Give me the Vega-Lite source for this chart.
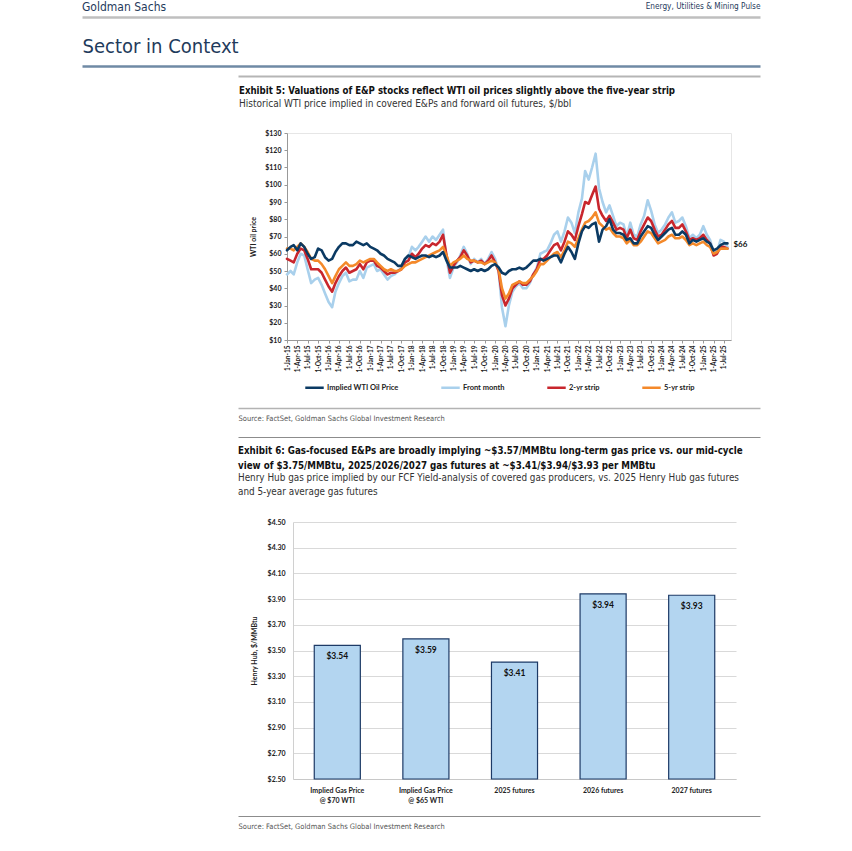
{
"$schema":"https://vega.github.io/schema/vega-lite/v6.json",
"background":"white",
"padding":{"left":82,"top":1,"right":8,"bottom":4},
"config":{"view":{"stroke":null},"axis":{"labelFont":"Lato","titleFont":"Lato"},"legend":{"labelFont":"Lato","titleFont":"Lato"}},
"spacing":0,
"resolve":{"legend":{"color":"independent"}},
"vconcat":[
{"width":678,"height":19,"data":{"values":[{"v":0},{"v":1}]},"mark":{"type":"rule","opacity":0},
 "encoding":{"x":{"field":"v","type":"quantitative","scale":{"domain":[0,1]},"axis":{"orient":"top","labels":false,"ticks":false,"grid":false,"domain":true,"domainColor":"#bfbfbf","domainWidth":2.5,"title":"Energy, Utilities & Mining Pulse","titleAnchor":"end","titleFont":"Liberation Sans Narrow, Arial Narrow, DejaVu Sans Condensed, sans-serif","titleFontSize":8.2,"titleFontWeight":"normal","titleColor":"#1f3b5c","titlePadding":7}}},
 "title":{"text":"Goldman Sachs","anchor":"start","font":"Liberation Sans Narrow, Arial Narrow, DejaVu Sans Condensed, sans-serif","fontSize":12,"fontWeight":"normal","color":"#1f3b5c","offset":-13}},
{"width":678,"height":1,"data":{"values":[{"v":0},{"v":1}]},"mark":{"type":"rule","opacity":0},
 "encoding":{"x":{"field":"v","type":"quantitative","scale":{"domain":[0,1]},"axis":{"orient":"top","labels":false,"ticks":false,"grid":false,"domain":true,"domainColor":"#6f8aa5","domainWidth":2.5,"title":"Sector in Context","titleAnchor":"start","titleFont":"Liberation Sans Narrow, Arial Narrow, DejaVu Sans Condensed, sans-serif","titleFontSize":20,"titleFontWeight":"normal","titleColor":"#1f3b5c","titlePadding":10}}}},
{"spacing":0,"hconcat":[
 {"width":156,"height":1,"data":{"values":[{"v":0}]},"mark":{"type":"rule","opacity":0},"encoding":{"x":{"field":"v","type":"quantitative","axis":null}}},
 {"width":522,"height":18,"data":{"values":[{"v":0},{"v":1}]},"mark":{"type":"rule","opacity":0},
  "encoding":{"x":{"field":"v","type":"quantitative","scale":{"domain":[0,1]},"axis":{"orient":"top","offset":-9,"labels":false,"ticks":false,"grid":false,"domainColor":"#b5b5b5","domainWidth":2,"title":null}}}}
]},
{"spacing":0,"resolve":{"legend":{"color":"independent"}},"hconcat":[
 {"width":156,"height":1,"data":{"values":[{"v":0}]},"mark":{"type":"rule","opacity":0},"encoding":{"x":{"field":"v","type":"quantitative","axis":null}}},
 {"width":444,"height":207,
   "title":{"text":"Exhibit 5: Valuations of E&P stocks reflect WTI oil prices slightly above the five-year strip","subtitle":"Historical WTI price implied in covered E&Ps and forward oil futures, $/bbl","anchor":"start","frame":"group","dx":-48,"font":"Liberation Sans Narrow, Arial Narrow, DejaVu Sans Condensed, sans-serif","fontSize":9.6,"fontWeight":"bold","color":"#111111","subtitleFont":"Liberation Sans Narrow, Arial Narrow, DejaVu Sans Condensed, sans-serif","subtitleFontSize":10,"subtitleColor":"#333333","subtitlePadding":3,"offset":20},
   "view":{"stroke":"#e6e6e6"},
   "data":{"values":[
{"d":"2015-01-01","imp":62,"fm":48,"s2":57,"s5":63},
{"d":"2015-02-01","imp":64,"fm":50,"s2":56,"s5":63},
{"d":"2015-03-01","imp":65,"fm":48,"s2":55,"s5":62},
{"d":"2015-04-01","imp":62,"fm":55,"s2":60,"s5":64},
{"d":"2015-05-01","imp":66,"fm":60,"s2":63,"s5":66},
{"d":"2015-06-01","imp":64,"fm":59,"s2":62,"s5":64},
{"d":"2015-07-01","imp":60,"fm":51,"s2":57,"s5":61},
{"d":"2015-08-01","imp":57,"fm":43,"s2":51,"s5":57},
{"d":"2015-09-01","imp":58,"fm":45,"s2":51,"s5":56},
{"d":"2015-10-01","imp":63,"fm":46,"s2":51,"s5":56},
{"d":"2015-11-01","imp":62,"fm":42,"s2":49,"s5":54},
{"d":"2015-12-01","imp":58,"fm":37,"s2":45,"s5":51},
{"d":"2016-01-01","imp":56,"fm":32,"s2":41,"s5":47},
{"d":"2016-02-01","imp":57,"fm":29,"s2":38,"s5":43},
{"d":"2016-03-01","imp":61,"fm":38,"s2":43,"s5":47},
{"d":"2016-04-01","imp":64,"fm":43,"s2":47,"s5":51},
{"d":"2016-05-01","imp":66,"fm":47,"s2":50,"s5":53},
{"d":"2016-06-01","imp":66,"fm":49,"s2":52,"s5":55},
{"d":"2016-07-01","imp":65,"fm":44,"s2":49,"s5":53},
{"d":"2016-08-01","imp":65,"fm":45,"s2":50,"s5":53},
{"d":"2016-09-01","imp":67,"fm":45,"s2":51,"s5":54},
{"d":"2016-10-01","imp":66,"fm":50,"s2":54,"s5":56},
{"d":"2016-11-01","imp":65,"fm":46,"s2":51,"s5":55},
{"d":"2016-12-01","imp":66,"fm":52,"s2":55,"s5":56},
{"d":"2017-01-01","imp":64,"fm":53,"s2":56,"s5":57},
{"d":"2017-02-01","imp":63,"fm":54,"s2":56,"s5":57},
{"d":"2017-03-01","imp":62,"fm":50,"s2":53,"s5":55},
{"d":"2017-04-01","imp":60,"fm":51,"s2":52,"s5":53},
{"d":"2017-05-01","imp":59,"fm":48,"s2":50,"s5":51},
{"d":"2017-06-01","imp":57,"fm":45,"s2":48,"s5":50},
{"d":"2017-07-01","imp":56,"fm":47,"s2":49,"s5":51},
{"d":"2017-08-01","imp":55,"fm":48,"s2":49,"s5":50},
{"d":"2017-09-01","imp":53,"fm":50,"s2":50,"s5":50},
{"d":"2017-10-01","imp":53,"fm":52,"s2":51,"s5":51},
{"d":"2017-11-01","imp":57,"fm":57,"s2":55,"s5":53},
{"d":"2017-12-01","imp":59,"fm":58,"s2":56,"s5":54},
{"d":"2018-01-01","imp":58,"fm":64,"s2":60,"s5":55},
{"d":"2018-02-01","imp":57,"fm":62,"s2":58,"s5":55},
{"d":"2018-03-01","imp":58,"fm":64,"s2":60,"s5":56},
{"d":"2018-04-01","imp":59,"fm":67,"s2":63,"s5":57},
{"d":"2018-05-01","imp":59,"fm":70,"s2":65,"s5":58},
{"d":"2018-06-01","imp":58,"fm":67,"s2":64,"s5":59},
{"d":"2018-07-01","imp":59,"fm":70,"s2":66,"s5":60},
{"d":"2018-08-01","imp":58,"fm":68,"s2":65,"s5":61},
{"d":"2018-09-01","imp":59,"fm":71,"s2":67,"s5":62},
{"d":"2018-10-01","imp":61,"fm":74,"s2":71,"s5":64},
{"d":"2018-11-01","imp":56,"fm":57,"s2":59,"s5":59},
{"d":"2018-12-01","imp":52,"fm":46,"s2":49,"s5":53},
{"d":"2019-01-01","imp":52,"fm":52,"s2":53,"s5":55},
{"d":"2019-02-01","imp":52,"fm":55,"s2":56,"s5":56},
{"d":"2019-03-01","imp":53,"fm":59,"s2":58,"s5":57},
{"d":"2019-04-01","imp":52,"fm":64,"s2":62,"s5":59},
{"d":"2019-05-01","imp":51,"fm":60,"s2":59,"s5":57},
{"d":"2019-06-01","imp":50,"fm":54,"s2":55,"s5":56},
{"d":"2019-07-01","imp":51,"fm":57,"s2":56,"s5":56},
{"d":"2019-08-01","imp":50,"fm":55,"s2":55,"s5":55},
{"d":"2019-09-01","imp":51,"fm":57,"s2":56,"s5":55},
{"d":"2019-10-01","imp":50,"fm":54,"s2":54,"s5":54},
{"d":"2019-11-01","imp":51,"fm":57,"s2":56,"s5":55},
{"d":"2019-12-01","imp":53,"fm":61,"s2":59,"s5":56},
{"d":"2020-01-01","imp":54,"fm":57,"s2":55,"s5":55},
{"d":"2020-02-01","imp":52,"fm":50,"s2":50,"s5":51},
{"d":"2020-03-01","imp":49,"fm":29,"s2":36,"s5":40},
{"d":"2020-04-01","imp":48,"fm":18,"s2":30,"s5":34},
{"d":"2020-05-01","imp":50,"fm":30,"s2":34,"s5":37},
{"d":"2020-06-01","imp":51,"fm":38,"s2":40,"s5":42},
{"d":"2020-07-01","imp":51,"fm":41,"s2":42,"s5":43},
{"d":"2020-08-01","imp":52,"fm":43,"s2":44,"s5":44},
{"d":"2020-09-01","imp":51,"fm":40,"s2":42,"s5":43},
{"d":"2020-10-01","imp":52,"fm":40,"s2":42,"s5":43},
{"d":"2020-11-01","imp":54,"fm":43,"s2":44,"s5":45},
{"d":"2020-12-01","imp":56,"fm":48,"s2":48,"s5":47},
{"d":"2021-01-01","imp":56,"fm":52,"s2":51,"s5":50},
{"d":"2021-02-01","imp":57,"fm":60,"s2":57,"s5":54},
{"d":"2021-03-01","imp":56,"fm":61,"s2":57,"s5":54},
{"d":"2021-04-01","imp":57,"fm":62,"s2":59,"s5":56},
{"d":"2021-05-01","imp":58,"fm":66,"s2":62,"s5":58},
{"d":"2021-06-01","imp":59,"fm":71,"s2":65,"s5":60},
{"d":"2021-07-01","imp":59,"fm":73,"s2":66,"s5":61},
{"d":"2021-08-01","imp":55,"fm":67,"s2":62,"s5":58},
{"d":"2021-09-01","imp":60,"fm":73,"s2":67,"s5":62},
{"d":"2021-10-01","imp":64,"fm":81,"s2":73,"s5":67},
{"d":"2021-11-01","imp":61,"fm":78,"s2":71,"s5":66},
{"d":"2021-12-01","imp":57,"fm":72,"s2":68,"s5":64},
{"d":"2022-01-01","imp":66,"fm":84,"s2":76,"s5":69},
{"d":"2022-02-01","imp":73,"fm":92,"s2":83,"s5":74},
{"d":"2022-03-01","imp":76,"fm":108,"s2":90,"s5":78},
{"d":"2022-04-01","imp":75,"fm":103,"s2":89,"s5":79},
{"d":"2022-05-01","imp":77,"fm":110,"s2":94,"s5":81},
{"d":"2022-06-01","imp":78,"fm":118,"s2":99,"s5":84},
{"d":"2022-07-01","imp":67,"fm":98,"s2":86,"s5":78},
{"d":"2022-08-01","imp":74,"fm":90,"s2":82,"s5":76},
{"d":"2022-09-01","imp":76,"fm":84,"s2":79,"s5":74},
{"d":"2022-10-01","imp":80,"fm":88,"s2":82,"s5":75},
{"d":"2022-11-01","imp":74,"fm":82,"s2":78,"s5":72},
{"d":"2022-12-01","imp":72,"fm":76,"s2":74,"s5":70},
{"d":"2023-01-01","imp":72,"fm":78,"s2":75,"s5":70},
{"d":"2023-02-01","imp":71,"fm":77,"s2":74,"s5":69},
{"d":"2023-03-01","imp":68,"fm":70,"s2":69,"s5":66},
{"d":"2023-04-01","imp":69,"fm":78,"s2":74,"s5":68},
{"d":"2023-05-01","imp":66,"fm":71,"s2":69,"s5":65},
{"d":"2023-06-01","imp":66,"fm":70,"s2":68,"s5":65},
{"d":"2023-07-01","imp":70,"fm":77,"s2":73,"s5":67},
{"d":"2023-08-01","imp":73,"fm":82,"s2":77,"s5":70},
{"d":"2023-09-01","imp":76,"fm":91,"s2":81,"s5":73},
{"d":"2023-10-01","imp":75,"fm":85,"s2":79,"s5":72},
{"d":"2023-11-01","imp":71,"fm":77,"s2":74,"s5":69},
{"d":"2023-12-01","imp":68,"fm":72,"s2":70,"s5":66},
{"d":"2024-01-01","imp":70,"fm":74,"s2":71,"s5":67},
{"d":"2024-02-01","imp":72,"fm":77,"s2":74,"s5":68},
{"d":"2024-03-01","imp":74,"fm":81,"s2":77,"s5":70},
{"d":"2024-04-01","imp":75,"fm":84,"s2":79,"s5":71},
{"d":"2024-05-01","imp":71,"fm":78,"s2":75,"s5":69},
{"d":"2024-06-01","imp":71,"fm":79,"s2":75,"s5":69},
{"d":"2024-07-01","imp":73,"fm":81,"s2":77,"s5":70},
{"d":"2024-08-01","imp":71,"fm":76,"s2":73,"s5":68},
{"d":"2024-09-01","imp":66,"fm":69,"s2":68,"s5":65},
{"d":"2024-10-01","imp":68,"fm":71,"s2":69,"s5":66},
{"d":"2024-11-01","imp":67,"fm":69,"s2":68,"s5":65},
{"d":"2024-12-01","imp":68,"fm":71,"s2":69,"s5":66},
{"d":"2025-01-01","imp":69,"fm":76,"s2":71,"s5":67},
{"d":"2025-02-01","imp":67,"fm":71,"s2":68,"s5":65},
{"d":"2025-03-01","imp":66,"fm":68,"s2":66,"s5":64},
{"d":"2025-04-01","imp":62,"fm":61,"s2":59,"s5":60},
{"d":"2025-05-01","imp":63,"fm":61,"s2":60,"s5":61},
{"d":"2025-06-01","imp":65,"fm":68,"s2":64,"s5":63},
{"d":"2025-07-01","imp":66,"fm":67,"s2":64,"s5":63},
{"d":"2025-08-01","imp":66,"fm":64,"s2":63,"s5":63}
   ]},
   "transform":[{"fold":["fm","s2","s5","imp"],"as":["series","v"]}],
   "encoding":{
    "x":{"field":"d","type":"temporal","scale":{"type":"utc","domain":[{"year":2015,"month":1,"date":1,"utc":true},{"year":2025,"month":9,"date":1,"utc":true}]},
     "axis":{"title":null,"labelExpr":"utcFormat(datum.value, '%-d-%b-%y')","tickCount":{"interval":"month","step":3},"labelAngle":270,"labelFontSize":6.5,"labelFontWeight":"bold","labelColor":"#222222","labelOverlap":false,"labelFlush":false,"labelPadding":2,"tickSize":3,"tickColor":"#999999","domainColor":"#999999","grid":false}},
    "y":{"field":"v","type":"quantitative","scale":{"domain":[10,130],"nice":false},
     "axis":{"title":"WTI oil price","values":[10,20,30,40,50,60,70,80,90,100,110,120,130],"format":"$.0f","labelFontSize":7,"labelFontWeight":"bold","labelColor":"#222222","labelPadding":3,"tickSize":3,"tickColor":"#999999","domainColor":"#999999","grid":false,"titleFontSize":7,"titleFontWeight":"bold","titleColor":"#222222","titlePadding":8}}
   },
   "layer":[
    {"mark":{"type":"line","strokeWidth":2.6,"strokeJoin":"round","strokeCap":"round"},
     "encoding":{"color":{"field":"series","type":"nominal","scale":{"domain":["imp","fm","s2","s5"],"range":["#0b3a63","#a9d0ec","#c8262d","#f4892a"]},
      "legend":{"orient":"none","legendX":17,"legendY":244,"direction":"horizontal","title":null,"symbolType":"stroke","symbolSize":340,"symbolStrokeWidth":2.5,"labelFontSize":7.5,"labelFontWeight":"bold","labelColor":"#222222","labelOffset":2,"columnPadding":37,"labelExpr":"datum.label == 'imp' ? 'Implied WTI Oil Price' : datum.label == 'fm' ? 'Front month' : datum.label == 's2' ? '2-yr strip' : '5-yr strip'"}}}},
    {"transform":[{"filter":"datum.series == 'imp' && utcyear(datum.d) == 2025 && utcmonth(datum.d) == 7"}],
     "mark":{"type":"text","align":"left","dx":6,"dy":2,"font":"Lato","fontSize":8,"fontWeight":"bold","color":"#111111"},
     "encoding":{"text":{"field":"v","type":"quantitative","format":"$.0f"}}}
   ]}
]},
{"spacing":0,"hconcat":[
 {"width":156,"height":1,"data":{"values":[{"v":0}]},"mark":{"type":"rule","opacity":0},"encoding":{"x":{"field":"v","type":"quantitative","axis":null}}},
 {"width":522,"height":14,"data":{"values":[{"v":0},{"v":1}]},"mark":{"type":"rule","opacity":0},
  "encoding":{"x":{"field":"v","type":"quantitative","scale":{"domain":[0,1]},"axis":{"orient":"bottom","labels":false,"ticks":false,"grid":false,"domainColor":"#b3b3b3","domainWidth":1.5,"title":"Source: FactSet, Goldman Sachs Global Investment Research","titleAnchor":"start","titleFont":"Liberation Sans Narrow, Arial Narrow, DejaVu Sans Condensed, sans-serif","titleFontSize":7.5,"titleFontWeight":"normal","titleColor":"#555555","titlePadding":6}}}}
]},
{"spacing":0,"hconcat":[
 {"width":156,"height":1,"data":{"values":[{"v":0}]},"mark":{"type":"rule","opacity":0},"encoding":{"x":{"field":"v","type":"quantitative","axis":null}}},
 {"width":522,"height":24,"data":{"values":[{"v":0},{"v":1}]},"mark":{"type":"rule","opacity":0},
  "encoding":{"x":{"field":"v","type":"quantitative","scale":{"domain":[0,1]},"axis":{"orient":"top","offset":-15,"labels":false,"ticks":false,"grid":false,"domainColor":"#8c8c8c","domainWidth":1,"title":null}}}}
]},
{"spacing":0,"hconcat":[
 {"width":156,"height":1,"data":{"values":[{"v":0}]},"mark":{"type":"rule","opacity":0},"encoding":{"x":{"field":"v","type":"quantitative","axis":null}}},
 {"width":443,"height":257,
   "title":{"text":["Exhibit 6: Gas-focused E&Ps are broadly implying ~$3.57/MMBtu long-term gas price vs. our mid-cycle","view of $3.75/MMBtu, 2025/2026/2027 gas futures at ~$3.41/$3.94/$3.93 per MMBtu"],"subtitle":["Henry Hub gas price implied by our FCF Yield-analysis of covered gas producers, vs. 2025 Henry Hub gas futures","and 5-year average gas futures"],"anchor":"start","frame":"group","dx":-55,"font":"Liberation Sans Narrow, Arial Narrow, DejaVu Sans Condensed, sans-serif","fontSize":9.7,"fontWeight":"bold","color":"#111111","lineHeight":15,"subtitleFont":"Liberation Sans Narrow, Arial Narrow, DejaVu Sans Condensed, sans-serif","subtitleFontSize":9.85,"subtitleColor":"#333333","subtitleLineHeight":14,"subtitlePadding":2,"offset":21},
   "data":{"values":[
    {"c":"Implied Gas Price @ $70 WTI","v":3.54},
    {"c":"Implied Gas Price @ $65 WTI","v":3.59},
    {"c":"2025 futures","v":3.41},
    {"c":"2026 futures","v":3.94},
    {"c":"2027 futures","v":3.93}
   ]},
   "encoding":{
    "x":{"field":"c","type":"nominal","sort":null,"scale":{"paddingInner":0.48,"paddingOuter":0.24},
     "axis":{"title":null,"labelAngle":0,"labelExpr":"indexof(datum.value,'@') > 0 ? ['Implied Gas Price', substring(datum.value, indexof(datum.value,'@'))] : datum.value","ticks":false,"domainColor":"#c8c8c8","labelFontSize":7,"labelFontWeight":"bold","labelColor":"#222222","labelPadding":7,"labelLineHeight":10}},
    "y":{"field":"v","type":"quantitative","scale":{"domain":[2.5,4.5],"nice":false,"zero":false},
     "axis":{"title":"Henry Hub, $/MMBtu","values":[2.5,2.7,2.9,3.1,3.3,3.5,3.7,3.9,4.1,4.3,4.5],"format":"$.2f","grid":true,"gridColor":"#d9d9d9","ticks":false,"domainColor":"#d0d0d0","labelPadding":8,"labelFontSize":7,"labelFontWeight":"bold","labelColor":"#222222","titleFontSize":7,"titleFontWeight":"bold","titleColor":"#222222","titlePadding":10}}
   },
   "layer":[
    {"mark":{"type":"bar","fill":"#b3d5f0","stroke":"#1d3a66","strokeWidth":1.2},"encoding":{"y2":{"datum":2.5}}},
    {"mark":{"type":"text","baseline":"middle","dy":11,"font":"Lato","fontSize":8.5,"fontWeight":"bold","color":"#111111"},"encoding":{"text":{"field":"v","type":"quantitative","format":"$.2f"}}}
   ]}
]},
{"spacing":0,"hconcat":[
 {"width":156,"height":1,"data":{"values":[{"v":0}]},"mark":{"type":"rule","opacity":0},"encoding":{"x":{"field":"v","type":"quantitative","axis":null}}},
 {"width":522,"height":13,"data":{"values":[{"v":0},{"v":1}]},"mark":{"type":"rule","opacity":0},
  "encoding":{"x":{"field":"v","type":"quantitative","scale":{"domain":[0,1]},"axis":{"orient":"bottom","labels":false,"ticks":false,"grid":false,"domainColor":"#8c8c8c","domainWidth":1,"title":"Source: FactSet, Goldman Sachs Global Investment Research","titleAnchor":"start","titleFont":"Liberation Sans Narrow, Arial Narrow, DejaVu Sans Condensed, sans-serif","titleFontSize":7.5,"titleFontWeight":"normal","titleColor":"#555555","titlePadding":6}}}}
]}
]}
